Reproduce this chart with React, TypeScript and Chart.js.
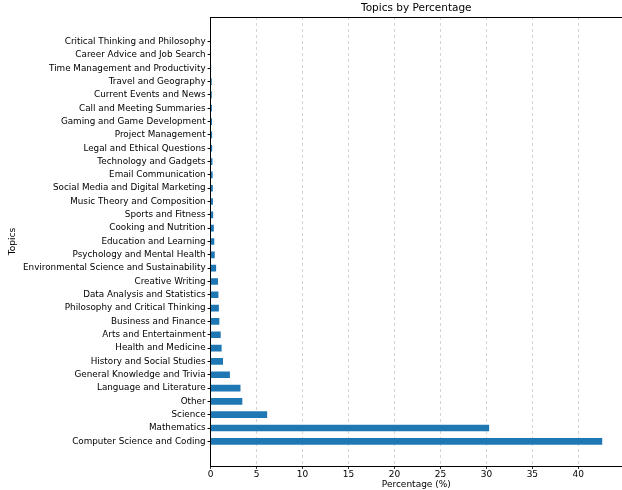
import React, { useEffect, useRef } from "react";
import { Chart, registerables } from "chart.js";

Chart.register(...registerables);

const topics = [
  "Computer Science and Coding",
  "Mathematics",
  "Science",
  "Other",
  "Language and Literature",
  "General Knowledge and Trivia",
  "History and Social Studies",
  "Health and Medicine",
  "Arts and Entertainment",
  "Business and Finance",
  "Philosophy and Critical Thinking",
  "Data Analysis and Statistics",
  "Creative Writing",
  "Environmental Science and Sustainability",
  "Psychology and Mental Health",
  "Education and Learning",
  "Cooking and Nutrition",
  "Sports and Fitness",
  "Music Theory and Composition",
  "Social Media and Digital Marketing",
  "Email Communication",
  "Technology and Gadgets",
  "Legal and Ethical Questions",
  "Project Management",
  "Gaming and Game Development",
  "Call and Meeting Summaries",
  "Current Events and News",
  "Travel and Geography",
  "Time Management and Productivity",
  "Career Advice and Job Search",
  "Critical Thinking and Philosophy",
];

const percentages = [
  42.6, 30.3, 6.15, 3.45, 3.25, 2.1, 1.35, 1.2, 1.1, 0.95, 0.9, 0.85, 0.8,
  0.6, 0.45, 0.4, 0.35, 0.28, 0.25, 0.24, 0.22, 0.2, 0.17, 0.16, 0.15, 0.14,
  0.13, 0.12, 0.06, 0.05, 0.04,
];

const xTicks = [0, 5, 10, 15, 20, 25, 30, 35, 40];

const FONT = "'DejaVu Sans', sans-serif";

export default function App() {
  const ref = useRef<HTMLCanvasElement | null>(null);

  useEffect(() => {
    document.body.style.margin = "0";
    const ctx = ref.current!.getContext("2d")!;
    const n = topics.length;
    const pad = 1.85;

    const framePlugin = {
      id: "frame",
      afterDraw(chart: any) {
        const { ctx, chartArea } = chart;
        ctx.save();
        ctx.strokeStyle = "#000";
        ctx.lineWidth = 1;
        ctx.beginPath();
        ctx.moveTo(chartArea.left, Math.round(chartArea.top) + 0.5);
        ctx.lineTo(chartArea.right, Math.round(chartArea.top) + 0.5);
        ctx.stroke();
        ctx.fillStyle = "#000";
        ctx.font = `10.5px ${FONT}`;
        ctx.textAlign = "center";
        ctx.textBaseline = "bottom";
        ctx.fillText(
          "Topics by Percentage",
          (chartArea.left + chartArea.right) / 2,
          chartArea.top - 3
        );
        ctx.restore();
      },
    };

    const chart = new Chart(ctx, {
      type: "bar",
      data: {
        datasets: [
          {
            data: percentages.map((v, i) => ({ x: v, y: i })),
            backgroundColor: "#1f77b4",
            borderWidth: 0,
            categoryPercentage: 1,
            barPercentage: 0.5,
          },
        ],
      },
      plugins: [framePlugin],
      options: {
        indexAxis: "y",
        animation: false,
        responsive: false,
        maintainAspectRatio: false,
        layout: { padding: { top: 17, right: 0, bottom: 1, left: 8 } },
        plugins: {
          legend: { display: false },
          tooltip: { enabled: false },
          title: { display: false },
        },
        scales: {
          x: {
            type: "linear",
            min: 0,
            max: 44.75,
            offset: false,
            afterBuildTicks: (axis: any) => {
              axis.ticks = xTicks.map((v) => ({ value: v }));
            },
            grid: {
              offset: false,
              color: "rgba(176,176,176,0.7)",
              lineWidth: 0.8,
              tickColor: "#000",
              tickLength: 3,
              tickBorderDash: [],
            },
            border: { display: true, color: "#000", width: 1, dash: [3, 3] },
            ticks: {
              color: "#000",
              font: { family: FONT, size: 9, lineHeight: 1 },
              padding: 1,
              maxRotation: 0,
            },
            title: {
              display: true,
              text: "Percentage (%)",
              color: "#000",
              font: { family: FONT, size: 9, lineHeight: 1 },
              padding: { top: 0, bottom: 0 },
            },
          },
          y: {
            type: "linear",
            min: -pad,
            max: n - 1 + pad,
            offset: false,
            afterBuildTicks: (axis: any) => {
              axis.ticks = topics.map((_, i) => ({ value: i }));
            },
            grid: {
              offset: false,
              drawOnChartArea: false,
              tickColor: "#000",
              tickLength: 3,
            },
            border: { display: true, color: "#000", width: 1 },
            ticks: {
              autoSkip: false,
              color: "#000",
              font: { family: FONT, size: 8.8 },
              padding: 2,
              callback: (v: any) => topics[Math.round(Number(v))] ?? "",
            },
            title: {
              display: true,
              text: "Topics",
              color: "#000",
              font: { family: FONT, size: 9, lineHeight: 1 },
              padding: { top: 0, bottom: 4 },
            },
          },
        },
      },
    } as any);

    return () => chart.destroy();
  }, []);

  return (
    <div style={{ position: "absolute", left: 0, top: 0, width: 622, height: 490 }}>
      <canvas ref={ref} width={622} height={490} style={{ width: 622, height: 490 }} />
    </div>
  );
}
